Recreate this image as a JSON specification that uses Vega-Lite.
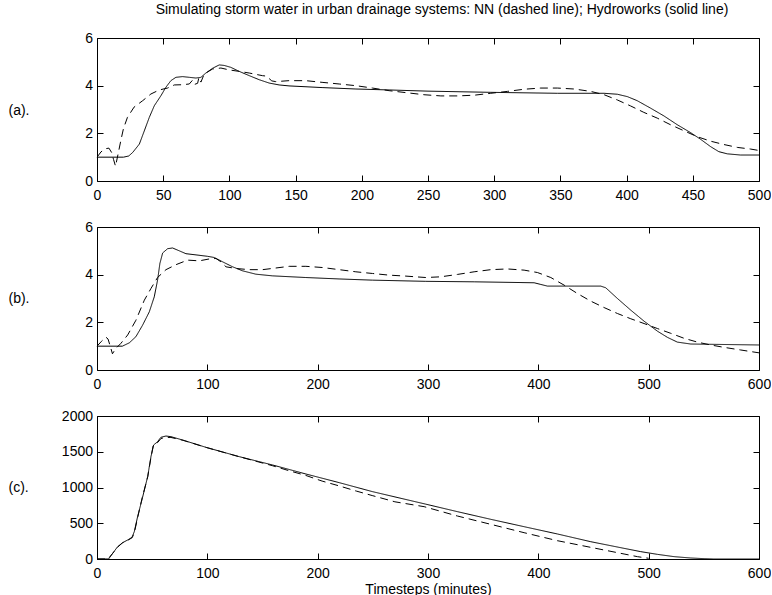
{
  "$schema": "https://vega.github.io/schema/vega-lite/v6.json",
  "padding": {"left": 8, "top": 3, "right": 0, "bottom": 0},
  "background": "white",
  "config": {
    "font": "Liberation Sans",
    "view": {"stroke": null},
    "axis": {"domainColor": "black", "tickColor": "black", "labelColor": "black", "titleColor": "black", "labelFont": "Liberation Sans", "titleFont": "Liberation Sans", "labelFontSize": 14, "titleFontSize": 14, "titleFontWeight": "normal", "grid": false, "domainWidth": 1, "tickWidth": 1, "labelFlush": false, "labelOverlap": false, "format": "d"},
    "title": {"font": "Liberation Sans", "fontSize": 14, "fontWeight": "normal", "color": "black"}
  },
  "datasets": {
    "a": [
      {"t":0,"v":1.0,"s":"HW"},{"t":20,"v":1.0,"s":"HW"},{"t":24,"v":1.05,"s":"HW"},{"t":27,"v":1.2,"s":"HW"},{"t":32,"v":1.55,"s":"HW"},{"t":35.7,"v":2.1,"s":"HW"},{"t":39.5,"v":2.67,"s":"HW"},{"t":43.3,"v":3.16,"s":"HW"},{"t":48.3,"v":3.58,"s":"HW"},{"t":52,"v":3.93,"s":"HW"},{"t":55.8,"v":4.21,"s":"HW"},{"t":59.6,"v":4.35,"s":"HW"},{"t":64.6,"v":4.38,"s":"HW"},{"t":69.7,"v":4.35,"s":"HW"},{"t":74.7,"v":4.32,"s":"HW"},{"t":78.5,"v":4.35,"s":"HW"},{"t":82,"v":4.52,"s":"HW"},{"t":87.3,"v":4.73,"s":"HW"},{"t":92.3,"v":4.87,"s":"HW"},{"t":96,"v":4.85,"s":"HW"},{"t":101,"v":4.77,"s":"HW"},{"t":107.4,"v":4.6,"s":"HW"},{"t":115,"v":4.42,"s":"HW"},{"t":122.5,"v":4.25,"s":"HW"},{"t":130,"v":4.11,"s":"HW"},{"t":137.6,"v":4.03,"s":"HW"},{"t":145,"v":3.99,"s":"HW"},{"t":170,"v":3.92,"s":"HW"},{"t":195.5,"v":3.86,"s":"HW"},{"t":220.6,"v":3.82,"s":"HW"},{"t":250,"v":3.77,"s":"HW"},{"t":297.4,"v":3.72,"s":"HW"},{"t":347.7,"v":3.68,"s":"HW"},{"t":383,"v":3.68,"s":"HW"},{"t":393,"v":3.64,"s":"HW"},{"t":400.6,"v":3.54,"s":"HW"},{"t":408,"v":3.37,"s":"HW"},{"t":418,"v":3.06,"s":"HW"},{"t":428.2,"v":2.73,"s":"HW"},{"t":438.3,"v":2.36,"s":"HW"},{"t":448.3,"v":2.03,"s":"HW"},{"t":455.9,"v":1.75,"s":"HW"},{"t":463.5,"v":1.44,"s":"HW"},{"t":469.7,"v":1.23,"s":"HW"},{"t":476,"v":1.14,"s":"HW"},{"t":486,"v":1.09,"s":"HW"},{"t":500,"v":1.09,"s":"HW"},
      {"t":0,"v":1.0,"s":"NN"},{"t":3,"v":1.22,"s":"NN"},{"t":6,"v":1.35,"s":"NN"},{"t":9,"v":1.38,"s":"NN"},{"t":11,"v":1.2,"s":"NN"},{"t":12.5,"v":0.9,"s":"NN"},{"t":14,"v":0.62,"s":"NN"},{"t":16,"v":1.15,"s":"NN"},{"t":18,"v":1.7,"s":"NN"},{"t":20,"v":2.2,"s":"NN"},{"t":23,"v":2.67,"s":"NN"},{"t":28,"v":3.1,"s":"NN"},{"t":34.5,"v":3.37,"s":"NN"},{"t":40.7,"v":3.65,"s":"NN"},{"t":47,"v":3.82,"s":"NN"},{"t":53.3,"v":3.9,"s":"NN"},{"t":58.4,"v":4.03,"s":"NN"},{"t":64.6,"v":4.04,"s":"NN"},{"t":69.7,"v":4.07,"s":"NN"},{"t":72,"v":4.22,"s":"NN"},{"t":73.5,"v":4.05,"s":"NN"},{"t":76,"v":4.1,"s":"NN"},{"t":77,"v":4.35,"s":"NN"},{"t":78.5,"v":4.15,"s":"NN"},{"t":81,"v":4.49,"s":"NN"},{"t":87.3,"v":4.7,"s":"NN"},{"t":93.6,"v":4.74,"s":"NN"},{"t":99.9,"v":4.66,"s":"NN"},{"t":107.4,"v":4.6,"s":"NN"},{"t":115,"v":4.53,"s":"NN"},{"t":125,"v":4.42,"s":"NN"},{"t":128,"v":4.4,"s":"NN"},{"t":132,"v":4.2,"s":"NN"},{"t":135,"v":4.17,"s":"NN"},{"t":145,"v":4.21,"s":"NN"},{"t":157.7,"v":4.21,"s":"NN"},{"t":170,"v":4.14,"s":"NN"},{"t":182.9,"v":4.07,"s":"NN"},{"t":195.5,"v":4.0,"s":"NN"},{"t":208,"v":3.9,"s":"NN"},{"t":220.6,"v":3.79,"s":"NN"},{"t":233,"v":3.71,"s":"NN"},{"t":247,"v":3.62,"s":"NN"},{"t":259.7,"v":3.57,"s":"NN"},{"t":272.3,"v":3.57,"s":"NN"},{"t":284.9,"v":3.6,"s":"NN"},{"t":297.4,"v":3.68,"s":"NN"},{"t":310,"v":3.76,"s":"NN"},{"t":322.6,"v":3.85,"s":"NN"},{"t":335.2,"v":3.9,"s":"NN"},{"t":347.7,"v":3.9,"s":"NN"},{"t":360.3,"v":3.86,"s":"NN"},{"t":372.9,"v":3.76,"s":"NN"},{"t":383,"v":3.62,"s":"NN"},{"t":393,"v":3.4,"s":"NN"},{"t":403,"v":3.15,"s":"NN"},{"t":413,"v":2.88,"s":"NN"},{"t":423.1,"v":2.64,"s":"NN"},{"t":433.2,"v":2.36,"s":"NN"},{"t":443.2,"v":2.11,"s":"NN"},{"t":453.3,"v":1.86,"s":"NN"},{"t":463.5,"v":1.67,"s":"NN"},{"t":473.5,"v":1.53,"s":"NN"},{"t":483.6,"v":1.41,"s":"NN"},{"t":493.7,"v":1.34,"s":"NN"},{"t":500,"v":1.28,"s":"NN"}
    ],
    "b": [
      {"t":0,"v":1.0,"s":"HW"},{"t":23,"v":1.0,"s":"HW"},{"t":29.3,"v":1.14,"s":"HW"},{"t":35.3,"v":1.4,"s":"HW"},{"t":41.3,"v":1.88,"s":"HW"},{"t":47.4,"v":2.44,"s":"HW"},{"t":51.9,"v":3.07,"s":"HW"},{"t":54.9,"v":3.77,"s":"HW"},{"t":57,"v":4.47,"s":"HW"},{"t":59.5,"v":4.91,"s":"HW"},{"t":64,"v":5.09,"s":"HW"},{"t":68.5,"v":5.12,"s":"HW"},{"t":74.6,"v":5.0,"s":"HW"},{"t":80.6,"v":4.88,"s":"HW"},{"t":89.7,"v":4.83,"s":"HW"},{"t":100.2,"v":4.77,"s":"HW"},{"t":106.3,"v":4.72,"s":"HW"},{"t":113.8,"v":4.54,"s":"HW"},{"t":122.9,"v":4.33,"s":"HW"},{"t":132,"v":4.16,"s":"HW"},{"t":144,"v":4.02,"s":"HW"},{"t":159,"v":3.95,"s":"HW"},{"t":189.3,"v":3.88,"s":"HW"},{"t":219.5,"v":3.82,"s":"HW"},{"t":249.7,"v":3.77,"s":"HW"},{"t":298,"v":3.72,"s":"HW"},{"t":342,"v":3.7,"s":"HW"},{"t":396.2,"v":3.66,"s":"HW"},{"t":402.2,"v":3.59,"s":"HW"},{"t":408.3,"v":3.52,"s":"HW"},{"t":432.4,"v":3.52,"s":"HW"},{"t":456.6,"v":3.52,"s":"HW"},{"t":461.1,"v":3.45,"s":"HW"},{"t":471.7,"v":3.0,"s":"HW"},{"t":483.8,"v":2.51,"s":"HW"},{"t":495.8,"v":2.05,"s":"HW"},{"t":507.9,"v":1.63,"s":"HW"},{"t":517,"v":1.37,"s":"HW"},{"t":526,"v":1.17,"s":"HW"},{"t":538.1,"v":1.09,"s":"HW"},{"t":568.3,"v":1.07,"s":"HW"},{"t":600,"v":1.05,"s":"HW"},
      {"t":0,"v":1.0,"s":"NN"},{"t":4,"v":1.2,"s":"NN"},{"t":8,"v":1.38,"s":"NN"},{"t":10,"v":1.3,"s":"NN"},{"t":12,"v":1.0,"s":"NN"},{"t":14,"v":0.68,"s":"NN"},{"t":17,"v":0.9,"s":"NN"},{"t":21.7,"v":1.12,"s":"NN"},{"t":27.8,"v":1.47,"s":"NN"},{"t":35.3,"v":2.09,"s":"NN"},{"t":42.9,"v":2.93,"s":"NN"},{"t":48.9,"v":3.42,"s":"NN"},{"t":54.9,"v":3.88,"s":"NN"},{"t":62.5,"v":4.21,"s":"NN"},{"t":71.6,"v":4.42,"s":"NN"},{"t":82.1,"v":4.61,"s":"NN"},{"t":92.7,"v":4.58,"s":"NN"},{"t":101.8,"v":4.66,"s":"NN"},{"t":107.8,"v":4.68,"s":"NN"},{"t":112.3,"v":4.54,"s":"NN"},{"t":116.9,"v":4.33,"s":"NN"},{"t":125.9,"v":4.26,"s":"NN"},{"t":138,"v":4.21,"s":"NN"},{"t":150.1,"v":4.21,"s":"NN"},{"t":162.2,"v":4.28,"s":"NN"},{"t":174.2,"v":4.35,"s":"NN"},{"t":189.3,"v":4.35,"s":"NN"},{"t":204.4,"v":4.3,"s":"NN"},{"t":219.5,"v":4.21,"s":"NN"},{"t":234.6,"v":4.12,"s":"NN"},{"t":249.7,"v":4.05,"s":"NN"},{"t":264.8,"v":3.98,"s":"NN"},{"t":279.9,"v":3.94,"s":"NN"},{"t":298,"v":3.88,"s":"NN"},{"t":311.6,"v":3.91,"s":"NN"},{"t":326.7,"v":4.01,"s":"NN"},{"t":341.8,"v":4.12,"s":"NN"},{"t":356.9,"v":4.21,"s":"NN"},{"t":372,"v":4.24,"s":"NN"},{"t":387.1,"v":4.19,"s":"NN"},{"t":399.2,"v":4.09,"s":"NN"},{"t":411.3,"v":3.88,"s":"NN"},{"t":423.4,"v":3.56,"s":"NN"},{"t":435.4,"v":3.21,"s":"NN"},{"t":447.5,"v":2.89,"s":"NN"},{"t":459.6,"v":2.62,"s":"NN"},{"t":471.7,"v":2.37,"s":"NN"},{"t":483.8,"v":2.15,"s":"NN"},{"t":495.8,"v":1.95,"s":"NN"},{"t":507.9,"v":1.74,"s":"NN"},{"t":520,"v":1.54,"s":"NN"},{"t":532.1,"v":1.33,"s":"NN"},{"t":544.2,"v":1.17,"s":"NN"},{"t":556.2,"v":1.05,"s":"NN"},{"t":568.3,"v":0.95,"s":"NN"},{"t":583.4,"v":0.84,"s":"NN"},{"t":600,"v":0.72,"s":"NN"}
    ],
    "c": [
      {"t":0,"v":0,"s":"HW"},{"t":10.5,"v":0,"s":"HW"},{"t":14.2,"v":79,"s":"HW"},{"t":18.7,"v":172,"s":"HW"},{"t":23.2,"v":228,"s":"HW"},{"t":27.8,"v":266,"s":"HW"},{"t":31.7,"v":303,"s":"HW"},{"t":33.8,"v":382,"s":"HW"},{"t":36.8,"v":592,"s":"HW"},{"t":41.3,"v":862,"s":"HW"},{"t":45.9,"v":1151,"s":"HW"},{"t":48.9,"v":1431,"s":"HW"},{"t":51.3,"v":1594,"s":"HW"},{"t":54.9,"v":1641,"s":"HW"},{"t":57.9,"v":1702,"s":"HW"},{"t":62.5,"v":1720,"s":"HW"},{"t":67,"v":1711,"s":"HW"},{"t":77.6,"v":1664,"s":"HW"},{"t":98.7,"v":1562,"s":"HW"},{"t":129,"v":1431,"s":"HW"},{"t":159.1,"v":1315,"s":"HW"},{"t":189.3,"v":1189,"s":"HW"},{"t":219.5,"v":1068,"s":"HW"},{"t":249.7,"v":942,"s":"HW"},{"t":298,"v":767,"s":"HW"},{"t":326.7,"v":662,"s":"HW"},{"t":356.9,"v":555,"s":"HW"},{"t":387.1,"v":452,"s":"HW"},{"t":417.3,"v":350,"s":"HW"},{"t":447.5,"v":242,"s":"HW"},{"t":477.7,"v":149,"s":"HW"},{"t":492.8,"v":103,"s":"HW"},{"t":507.9,"v":65,"s":"HW"},{"t":523,"v":33,"s":"HW"},{"t":538.1,"v":14,"s":"HW"},{"t":550.2,"v":5,"s":"HW"},{"t":559,"v":0,"s":"HW"},{"t":600,"v":0,"s":"HW"},
      {"t":0,"v":0,"s":"NN"},{"t":10,"v":0,"s":"NN"},{"t":14,"v":75,"s":"NN"},{"t":19,"v":170,"s":"NN"},{"t":23,"v":225,"s":"NN"},{"t":28,"v":262,"s":"NN"},{"t":32,"v":300,"s":"NN"},{"t":34,"v":380,"s":"NN"},{"t":37,"v":590,"s":"NN"},{"t":41,"v":860,"s":"NN"},{"t":46,"v":1150,"s":"NN"},{"t":49,"v":1430,"s":"NN"},{"t":51,"v":1590,"s":"NN"},{"t":55,"v":1630,"s":"NN"},{"t":58,"v":1685,"s":"NN"},{"t":62,"v":1700,"s":"NN"},{"t":67,"v":1700,"s":"NN"},{"t":78,"v":1660,"s":"NN"},{"t":99,"v":1560,"s":"NN"},{"t":129,"v":1430,"s":"NN"},{"t":159,"v":1305,"s":"NN"},{"t":174,"v":1235,"s":"NN"},{"t":189,"v":1170,"s":"NN"},{"t":204,"v":1090,"s":"NN"},{"t":220,"v":1020,"s":"NN"},{"t":235,"v":950,"s":"NN"},{"t":250,"v":885,"s":"NN"},{"t":270,"v":800,"s":"NN"},{"t":296.5,"v":732,"s":"NN"},{"t":326.7,"v":601,"s":"NN"},{"t":356.9,"v":485,"s":"NN"},{"t":387.1,"v":368,"s":"NN"},{"t":417.3,"v":256,"s":"NN"},{"t":447.5,"v":163,"s":"NN"},{"t":477.7,"v":70,"s":"NN"},{"t":489.8,"v":33,"s":"NN"},{"t":495.8,"v":19,"s":"NN"},{"t":500,"v":10,"s":"NN"}
    ]
  },
  "spacing": 46,
  "bounds": "flush",
  "vconcat": [
    {
      "width": 662, "height": 143,
      "title": {"text": "Simulating storm water in urban drainage systems: NN (dashed line); Hydroworks (solid line)", "anchor": "middle", "frame": "group", "offset": 14, "dx": 14},
      "data": {"name": "a"},
      "layer": [
        {
          "mark": {"type": "line", "color": "black", "strokeWidth": 1},
          "encoding": {
            "x": {"field": "t", "type": "quantitative", "scale": {"domain": [0, 500], "nice": false}, "axis": {"values": [0,50,100,150,200,250,300,350,400,450,500], "title": null, "ticks": false, "tickSize": 0, "labelPadding": 7}},
            "y": {"field": "v", "type": "quantitative", "scale": {"domain": [0, 6], "nice": false}, "axis": {"values": [0,2,4,6], "ticks": false, "tickSize": 0, "labelPadding": 4.5, "title": "(a).", "titleAngle": 0, "titleX": -89, "titleY": 72, "titleAlign": "left", "titleBaseline": "middle"}},
            "strokeDash": {"field": "s", "type": "nominal", "scale": {"domain": ["NN", "HW"], "range": [[8, 5], [1, 0]]}, "legend": null}
          }
        },
        {
          "mark": {"type": "line", "opacity": 0},
          "encoding": {
            "x": {"field": "t", "type": "quantitative", "axis": {"orient": "top", "offset": -143, "domain": false, "labels": false, "title": null, "ticks": true, "tickSize": 6, "values": [0,50,100,150,200,250,300,350,400,450,500]}},
            "y": {"field": "v", "type": "quantitative", "axis": {"orient": "right", "offset": -662, "domain": false, "labels": false, "title": null, "ticks": true, "tickSize": 6, "values": [0,2,4,6]}},
            "detail": {"field": "s", "type": "nominal"}
          }
        },
        {
          "mark": {"type": "line", "opacity": 0},
          "encoding": {
            "x": {"field": "t", "type": "quantitative", "axis": {"orient": "bottom", "offset": -143, "labels": false, "title": null, "ticks": true, "tickSize": 6, "values": [0,50,100,150,200,250,300,350,400,450,500]}},
            "y": {"field": "v", "type": "quantitative", "axis": {"orient": "left", "offset": -662, "labels": false, "title": null, "ticks": true, "tickSize": 6, "values": [0,2,4,6]}},
            "detail": {"field": "s", "type": "nominal"}
          }
        }
      ],
      "resolve": {"axis": {"x": "independent", "y": "independent"}}
    },
    {
      "width": 662, "height": 143,
      "data": {"name": "b"},
      "layer": [
        {
          "mark": {"type": "line", "color": "black", "strokeWidth": 1},
          "encoding": {
            "x": {"field": "t", "type": "quantitative", "scale": {"domain": [0, 600], "nice": false}, "axis": {"values": [0,100,200,300,400,500,600], "title": null, "ticks": false, "tickSize": 0, "labelPadding": 7}},
            "y": {"field": "v", "type": "quantitative", "scale": {"domain": [0, 6], "nice": false}, "axis": {"values": [0,2,4,6], "ticks": false, "tickSize": 0, "labelPadding": 4.5, "title": "(b).", "titleAngle": 0, "titleX": -89, "titleY": 71, "titleAlign": "left", "titleBaseline": "middle"}},
            "strokeDash": {"field": "s", "type": "nominal", "scale": {"domain": ["NN", "HW"], "range": [[8, 5], [1, 0]]}, "legend": null}
          }
        },
        {
          "mark": {"type": "line", "opacity": 0},
          "encoding": {
            "x": {"field": "t", "type": "quantitative", "axis": {"orient": "top", "offset": -143, "domain": false, "labels": false, "title": null, "ticks": true, "tickSize": 6, "values": [0,100,200,300,400,500,600]}},
            "y": {"field": "v", "type": "quantitative", "axis": {"orient": "right", "offset": -662, "domain": false, "labels": false, "title": null, "ticks": true, "tickSize": 6, "values": [0,2,4,6]}},
            "detail": {"field": "s", "type": "nominal"}
          }
        },
        {
          "mark": {"type": "line", "opacity": 0},
          "encoding": {
            "x": {"field": "t", "type": "quantitative", "axis": {"orient": "bottom", "offset": -143, "labels": false, "title": null, "ticks": true, "tickSize": 6, "values": [0,100,200,300,400,500,600]}},
            "y": {"field": "v", "type": "quantitative", "axis": {"orient": "left", "offset": -662, "labels": false, "title": null, "ticks": true, "tickSize": 6, "values": [0,2,4,6]}},
            "detail": {"field": "s", "type": "nominal"}
          }
        }
      ],
      "resolve": {"axis": {"x": "independent", "y": "independent"}}
    },
    {
      "width": 662, "height": 143,
      "data": {"name": "c"},
      "layer": [
        {
          "mark": {"type": "line", "color": "black", "strokeWidth": 1},
          "encoding": {
            "x": {"field": "t", "type": "quantitative", "scale": {"domain": [0, 600], "nice": false}, "axis": {"values": [0,100,200,300,400,500,600], "ticks": false, "tickSize": 0, "labelPadding": 7, "title": "Timesteps (minutes)", "titlePadding": 2}},
            "y": {"field": "v", "type": "quantitative", "scale": {"domain": [0, 2000], "nice": false}, "axis": {"values": [0,500,1000,1500,2000], "ticks": false, "tickSize": 0, "labelPadding": 4.5, "title": "(c).", "titleAngle": 0, "titleX": -89, "titleY": 71, "titleAlign": "left", "titleBaseline": "middle"}},
            "strokeDash": {"field": "s", "type": "nominal", "scale": {"domain": ["NN", "HW"], "range": [[8, 5], [1, 0]]}, "legend": null}
          }
        },
        {
          "mark": {"type": "line", "opacity": 0},
          "encoding": {
            "x": {"field": "t", "type": "quantitative", "axis": {"orient": "top", "offset": -143, "domain": false, "labels": false, "title": null, "ticks": true, "tickSize": 6, "values": [0,100,200,300,400,500,600]}},
            "y": {"field": "v", "type": "quantitative", "axis": {"orient": "right", "offset": -662, "domain": false, "labels": false, "title": null, "ticks": true, "tickSize": 6, "values": [0,500,1000,1500,2000]}},
            "detail": {"field": "s", "type": "nominal"}
          }
        },
        {
          "mark": {"type": "line", "opacity": 0},
          "encoding": {
            "x": {"field": "t", "type": "quantitative", "axis": {"orient": "bottom", "offset": -143, "labels": false, "title": null, "ticks": true, "tickSize": 6, "values": [0,100,200,300,400,500,600]}},
            "y": {"field": "v", "type": "quantitative", "axis": {"orient": "left", "offset": -662, "labels": false, "title": null, "ticks": true, "tickSize": 6, "values": [0,500,1000,1500,2000]}},
            "detail": {"field": "s", "type": "nominal"}
          }
        }
      ],
      "resolve": {"axis": {"x": "independent", "y": "independent"}}
    }
  ]
}
